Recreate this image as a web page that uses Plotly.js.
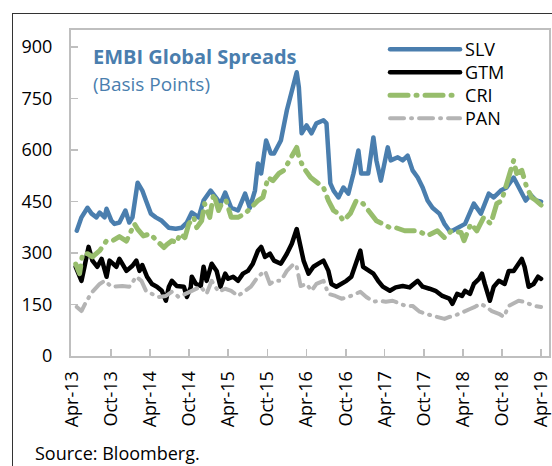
<!DOCTYPE html>
<html>
<head>
<meta charset="utf-8">
<script src="https://cdn.plot.ly/plotly-3.0.1.min.js"></script>
<style>
  html, body { margin: 0; padding: 0; background: #ffffff; overflow: hidden; }
  #frame { position: absolute; left: 12px; top: 13px; width: 600px; height: 500px;
           border-left: 1.5px solid #333; border-top: 1.5px solid #333; }
  #chart { position: absolute; left: 0; top: 0; width: 552px; height: 466px; }
  .js-line { stroke-linecap: round; stroke-linejoin: round; }
</style>
</head>
<body>
<div id="frame"></div>
<div id="chart"></div>
<script>
// ---- data ----
const slvDates = ["2013-04-24","2013-05-16","2013-06-13","2013-07-02","2013-07-25","2013-08-09","2013-09-01","2013-09-10","2013-10-03","2013-10-17","2013-11-09","2013-12-07","2013-12-25","2014-01-09","2014-02-02","2014-02-24","2014-03-13","2014-04-05","2014-04-28","2014-05-26","2014-06-27","2014-07-30","2014-08-27","2014-09-20","2014-10-13","2014-11-14","2014-12-07","2015-01-09","2015-02-02","2015-02-24","2015-03-18","2015-04-15","2015-05-17","2015-06-19","2015-07-11","2015-08-04","2015-08-18","2015-09-02","2015-09-25","2015-10-17","2015-11-01","2015-12-03","2015-12-31","2016-01-23","2016-02-15","2016-02-25","2016-03-09","2016-04-01","2016-04-24","2016-05-17","2016-06-19","2016-07-03","2016-07-21","2016-08-05","2016-08-28","2016-09-20","2016-10-13","2016-11-06","2016-11-29","2016-12-12","2017-01-14","2017-02-07","2017-02-21","2017-03-14","2017-04-15","2017-04-29","2017-06-01","2017-06-24","2017-07-17","2017-08-09","2017-09-02","2017-09-25","2017-10-18","2017-11-10","2017-12-12","2018-01-05","2018-01-28","2018-02-11","2018-03-14","2018-04-11","2018-05-22","2018-06-24","2018-07-31","2018-08-23","2018-09-25","2018-10-22","2018-11-24","2018-12-17","2019-01-19","2019-02-11","2019-03-09","2019-04-01"];
const slvValues = [365,404,432,415,404,418,404,429,394,385,389,424,389,404,505,482,453,415,404,394,374,371,374,389,418,404,453,482,462,444,476,432,424,473,432,482,561,532,628,590,590,628,716,774,827,783,649,672,649,678,687,678,503,482,462,491,473,532,599,532,532,637,570,511,608,570,579,570,584,541,520,491,453,432,415,385,365,365,374,385,444,415,473,462,482,491,520,490,453,470,453,450];

const gtmDates = ["2013-04-19","2013-04-28","2013-05-16","2013-05-30","2013-06-18","2013-07-06","2013-07-29","2013-08-18","2013-09-10","2013-09-24","2013-10-26","2013-11-09","2013-12-12","2014-01-09","2014-01-27","2014-02-11","2014-02-24","2014-03-18","2014-04-10","2014-05-03","2014-05-26","2014-06-14","2014-06-28","2014-07-12","2014-08-04","2014-09-06","2014-09-20","2014-10-08","2014-10-13","2014-11-01","2014-11-24","2014-12-07","2014-12-21","2015-01-14","2015-02-06","2015-02-24","2015-03-18","2015-04-01","2015-04-24","2015-05-17","2015-06-09","2015-07-02","2015-07-25","2015-08-18","2015-09-02","2015-09-20","2015-10-13","2015-11-01","2015-12-03","2015-12-31","2016-01-23","2016-02-15","2016-02-25","2016-03-18","2016-04-10","2016-05-03","2016-05-26","2016-06-19","2016-07-12","2016-07-26","2016-08-18","2016-09-11","2016-10-04","2016-10-27","2016-11-19","2016-12-08","2016-12-21","2017-01-14","2017-02-07","2017-03-01","2017-03-23","2017-04-25","2017-05-22","2017-06-24","2017-07-26","2017-09-02","2017-09-25","2017-10-27","2017-11-24","2017-12-26","2018-01-28","2018-02-11","2018-03-05","2018-03-28","2018-04-11","2018-05-04","2018-05-22","2018-06-15","2018-06-29","2018-07-12","2018-08-05","2018-08-23","2018-09-16","2018-10-13","2018-11-01","2018-11-24","2018-12-17","2019-01-01","2019-01-14","2019-02-02","2019-02-25","2019-03-18","2019-04-01"];
const gtmValues = [260,245,219,260,318,278,260,283,231,278,260,283,248,263,278,248,265,231,210,202,190,161,202,219,204,202,172,200,231,210,204,260,219,269,248,202,240,225,231,219,240,248,269,307,318,289,298,278,269,298,327,370,336,278,240,260,269,278,248,210,202,210,219,231,269,307,260,248,240,219,202,190,200,204,200,219,202,196,190,175,167,152,181,175,190,181,210,225,240,210,161,202,219,210,248,248,269,283,260,202,210,231,225];

const criDates = ["2013-04-19","2013-05-07","2013-05-21","2013-06-13","2013-07-06","2013-08-09","2013-09-10","2013-10-08","2013-11-09","2013-12-12","2014-01-18","2014-02-02","2014-03-01","2014-04-01","2014-05-03","2014-06-05","2014-06-19","2014-07-12","2014-08-04","2014-08-18","2014-09-11","2014-09-29","2014-10-22","2014-11-05","2014-11-28","2014-12-12","2015-01-05","2015-01-23","2015-02-15","2015-03-01","2015-03-22","2015-04-15","2015-05-17","2015-06-19","2015-07-16","2015-08-18","2015-09-10","2015-10-04","2015-10-27","2015-11-24","2015-12-17","2016-01-19","2016-02-15","2016-02-25","2016-03-18","2016-04-20","2016-05-17","2016-06-19","2016-07-12","2016-08-05","2016-08-28","2016-09-20","2016-10-22","2016-11-19","2016-12-21","2017-01-23","2017-02-21","2017-03-23","2017-04-25","2017-05-22","2017-07-03","2017-09-02","2017-10-18","2017-12-03","2018-01-05","2018-02-07","2018-03-23","2018-04-06","2018-05-08","2018-06-05","2018-07-07","2018-08-09","2018-09-06","2018-09-29","2018-10-22","2018-11-24","2018-12-08","2019-01-01","2019-01-24","2019-02-16","2019-03-09","2019-04-01"];
const criValues = [268,240,298,298,289,307,336,336,348,335,385,370,350,356,336,316,325,336,330,356,345,385,404,374,394,444,404,473,424,444,453,404,404,415,432,453,462,520,511,532,541,579,608,579,549,520,505,491,453,424,415,394,415,453,444,415,394,385,374,374,365,365,351,365,345,365,360,336,385,365,404,385,444,453,503,570,532,541,491,462,453,440];

const panDates = ["2013-04-24","2013-05-16","2013-06-09","2013-07-06","2013-08-09","2013-09-01","2013-10-03","2013-10-26","2013-11-23","2013-12-25","2014-01-27","2014-02-20","2014-03-13","2014-04-10","2014-05-12","2014-06-14","2014-07-12","2014-08-13","2014-09-15","2014-10-22","2014-11-24","2014-12-21","2015-01-14","2015-02-15","2015-03-18","2015-04-15","2015-05-17","2015-06-19","2015-07-16","2015-08-18","2015-09-20","2015-10-13","2015-11-01","2015-12-03","2015-12-31","2016-02-02","2016-02-15","2016-03-04","2016-04-01","2016-04-24","2016-05-17","2016-06-19","2016-07-12","2016-08-14","2016-09-11","2016-10-13","2016-11-15","2016-12-08","2017-01-05","2017-02-07","2017-03-09","2017-04-06","2017-05-08","2017-06-10","2017-07-08","2017-08-09","2017-09-11","2017-10-09","2017-11-10","2017-12-12","2018-01-05","2018-01-28","2018-02-20","2018-03-14","2018-04-11","2018-05-04","2018-05-27","2018-06-19","2018-07-12","2018-08-14","2018-09-16","2018-10-09","2018-11-01","2018-11-24","2018-12-17","2019-01-10","2019-02-02","2019-03-01","2019-04-01"];
const panValues = [143,131,161,187,210,219,202,204,204,202,231,219,190,181,172,175,187,172,181,190,202,181,219,187,196,190,175,190,202,231,248,210,219,219,248,269,260,204,210,190,210,219,181,175,167,172,181,187,172,158,161,158,161,152,146,146,129,123,117,114,108,114,117,123,129,137,143,152,146,131,123,114,146,152,161,158,152,146,143];

const seriesNames = ["SLV","GTM","CRI","PAN"];
const yTickVals = [0,150,300,450,600,750,900];
const titleMain = "EMBI Global Spreads";
const titleSub = "(Basis Points)";
const sourceText = "Source: Bloomberg.";

// ---- chart ----
const FONT = "Open Sans, Noto Sans, sans-serif";
const BLUE = "#4a7eae";
const traces = [
  {x: slvDates, y: slvValues, name: seriesNames[0], type: "scatter", mode: "lines", legend: "legend",
   line: {color: BLUE, width: 4.5}},
  {x: gtmDates, y: gtmValues, name: seriesNames[1], type: "scatter", mode: "lines", legend: "legend2",
   line: {color: "#000000", width: 4.5}},
  {x: criDates, y: criValues, name: seriesNames[2], type: "scatter", mode: "lines", legend: "legend3",
   line: {color: "#97bd6c", width: 5, dash: "18px,8px,1px,8px"}},
  {x: panDates, y: panValues, name: seriesNames[3], type: "scatter", mode: "lines", legend: "legend4",
   line: {color: "#b4b4b4", width: 4, dash: "14px,7px,1px,7px"}}
];

function leg(yPaper) {
  return {x: 0.657, y: yPaper, xanchor: "left", yanchor: "top",
          bgcolor: "rgba(0,0,0,0)", itemwidth: 70,
          font: {family: FONT, size: 18, color: "#000"}};
}

const layout = {
  width: 552, height: 466,
  margin: {l: 71, r: 3, t: 30, b: 110, pad: 0},
  paper_bgcolor: "rgba(0,0,0,0)",
  plot_bgcolor: "rgba(0,0,0,0)",
  font: {family: FONT, size: 18, color: "#000"},
  showlegend: true,
  legend: leg(0.997),
  legend2: leg(0.926),
  legend3: leg(0.856),
  legend4: leg(0.785),
  xaxis: {type: "date", range: ["2013-03-28", "2019-05-08"],
          tick0: "2013-04-01", dtick: "M6", tickformat: "%b-%y", tickangle: -90,
          ticks: "inside", ticklen: 7, tickwidth: 1.5, tickcolor: "#bfbfbf",
          showline: true, linecolor: "#bfbfbf", linewidth: 2, mirror: true,
          showgrid: false, zeroline: false, ticklabelstandoff: 6,
          ticklabeloverflow: "allow",
          tickfont: {family: FONT, size: 18, color: "#000"}},
  yaxis: {range: [0, 950], tickvals: yTickVals,
          ticks: "inside", ticklen: 7, tickwidth: 1.5, tickcolor: "#bfbfbf",
          showline: true, linecolor: "#bfbfbf", linewidth: 2, mirror: true,
          showgrid: false, zeroline: false, ticklabelstandoff: 13,
          tickfont: {family: FONT, size: 18, color: "#000"}},
  annotations: [
    {text: "<b>" + titleMain + "</b>", xref: "paper", yref: "paper", x: 0.042, y: 0.92,
     xanchor: "left", yanchor: "middle", showarrow: false,
     font: {family: FONT, size: 20, color: BLUE}},
    {text: titleSub, xref: "paper", yref: "paper", x: 0.042, y: 0.834,
     xanchor: "left", yanchor: "middle", showarrow: false,
     font: {family: FONT, size: 19, color: BLUE}},
    {text: sourceText, xref: "paper", yref: "paper", x: -0.08, y: -0.298,
     xanchor: "left", yanchor: "middle", showarrow: false,
     font: {family: FONT, size: 18, color: "#000"}}
  ]
};

Plotly.newPlot("chart", traces, layout, {displayModeBar: false, staticPlot: true});
</script>
</body>
</html>
